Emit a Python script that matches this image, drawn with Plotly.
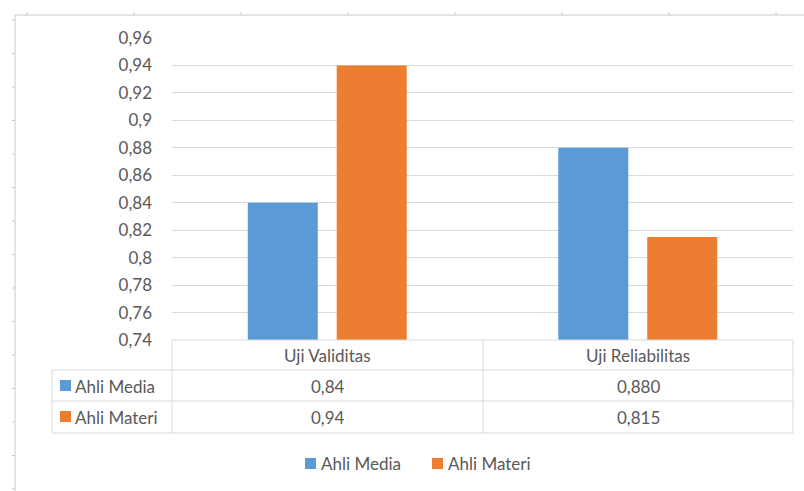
import plotly.graph_objects as go

categories = ["Uji Validitas", "Uji Reliabilitas"]
series_names = ["Ahli Media", "Ahli Materi"]
ahli_media = [0.84, 0.88]
ahli_materi = [0.94, 0.815]
ahli_media_text = ["0,84", "0,880"]
ahli_materi_text = ["0,94", "0,815"]
tick_vals = [0.74, 0.76, 0.78, 0.80, 0.82, 0.84, 0.86, 0.88, 0.90, 0.92, 0.94, 0.96]
tick_text = ["0,74", "0,76", "0,78", "0,8", "0,82", "0,84", "0,86", "0,88", "0,9", "0,92", "0,94", "0,96"]

colors = ["#5B9BD5", "#ED7D31"]
W, H = 804, 491
L, R, T, B = 172, 793, 38, 340
FONT = "Lato"
FS = 17
TXT = "#595959"
GRID = "#D9D9D9"

def px(xp):
    return (xp - L) / (R - L)

def py(yp):
    return (B - yp) / (B - T)

fig = go.Figure()
for name, vals, c in zip(series_names, [ahli_media, ahli_materi], colors):
    fig.add_trace(go.Bar(x=categories, y=vals, name=name, marker=dict(color=c, line=dict(width=0))))

shapes = []
ann = []
line = dict(color=GRID, width=1)
# table horizontal lines
for yy, x0 in [(340, 172), (370, 52), (401, 52), (433, 52)]:
    shapes.append(dict(type="line", xref="paper", yref="paper", x0=px(x0), x1=px(793), y0=py(yy), y1=py(yy), line=line))
# vertical lines
shapes.append(dict(type="line", xref="paper", yref="paper", x0=px(52), x1=px(52), y0=py(370), y1=py(433), line=line))
for xx in [172, 483, 793]:
    shapes.append(dict(type="line", xref="paper", yref="paper", x0=px(xx), x1=px(xx), y0=py(340), y1=py(433), line=line))
# header labels
col_centers = [(172 + 483) / 2, (483 + 793) / 2]
for cat, cx in zip(categories, col_centers):
    ann.append(dict(text=cat, xref="paper", yref="paper", x=px(cx), y=py(355), showarrow=False, xanchor="center", yanchor="middle", font=dict(family=FONT, size=FS, color=TXT)))
# rows
row_centers = [386, 417]
for name, texts, c, ry in zip(series_names, [ahli_media_text, ahli_materi_text], colors, row_centers):
    shapes.append(dict(type="rect", xref="paper", yref="paper", x0=px(60), x1=px(71), y0=py(ry - 6), y1=py(ry + 5), fillcolor=c, line=dict(width=0)))
    ann.append(dict(text=name, xref="paper", yref="paper", x=px(73), y=py(ry), showarrow=False, xanchor="left", yanchor="middle", font=dict(family=FONT, size=FS, color=TXT)))
    for t, cx in zip(texts, col_centers):
        ann.append(dict(text=t, xref="paper", yref="paper", x=px(cx), y=py(ry), showarrow=False, xanchor="center", yanchor="middle", font=dict(family=FONT, size=FS, color=TXT)))

# legend (bottom)
for name, c, x0 in zip(series_names, colors, [305, 432]):
    shapes.append(dict(type="rect", xref="paper", yref="paper", x0=px(x0), x1=px(x0 + 11), y0=py(469), y1=py(458), fillcolor=c, line=dict(width=0)))
    ann.append(dict(text=name, xref="paper", yref="paper", x=px(x0 + 14), y=py(463), showarrow=False, xanchor="left", yanchor="middle", font=dict(family=FONT, size=FS, color=TXT)))

# outer frame (screenshot border with ruler ticks)
frame = dict(color="#C8C8C8", width=1)
shapes.append(dict(type="line", xref="paper", yref="paper", x0=px(15), x1=px(804), y0=py(15), y1=py(15), line=frame))
shapes.append(dict(type="line", xref="paper", yref="paper", x0=px(15), x1=px(15), y0=py(15), y1=py(491), line=frame))
for i in range(8):
    xx = 27 + 107 * i
    shapes.append(dict(type="line", xref="paper", yref="paper", x0=px(xx), x1=px(xx), y0=py(12), y1=py(15), line=frame))
for i in range(15):
    yy = 20 + 33.5 * i
    shapes.append(dict(type="line", xref="paper", yref="paper", x0=px(12), x1=px(15), y0=py(yy), y1=py(yy), line=frame))

fig.update_layout(
    width=W, height=H,
    margin=dict(l=L, r=W - R, t=T, b=H - B, pad=0),
    paper_bgcolor="white", plot_bgcolor="white",
    barmode="group", bargap=0.427, bargroupgap=0.213,
    showlegend=False,
    font=dict(family=FONT, size=FS, color=TXT),
    xaxis=dict(showticklabels=False, showgrid=False, showline=False, zeroline=False, ticks=""),
    yaxis=dict(range=[0.74, 0.96], tickvals=tick_vals, ticktext=tick_text, showgrid=True, gridcolor=GRID,
               gridwidth=1, zeroline=False, showline=False, ticks="", ticklabelstandoff=19,
               tickfont=dict(family=FONT, size=FS, color=TXT)),
    shapes=shapes, annotations=ann,
)
fig.write_html("out.html")
